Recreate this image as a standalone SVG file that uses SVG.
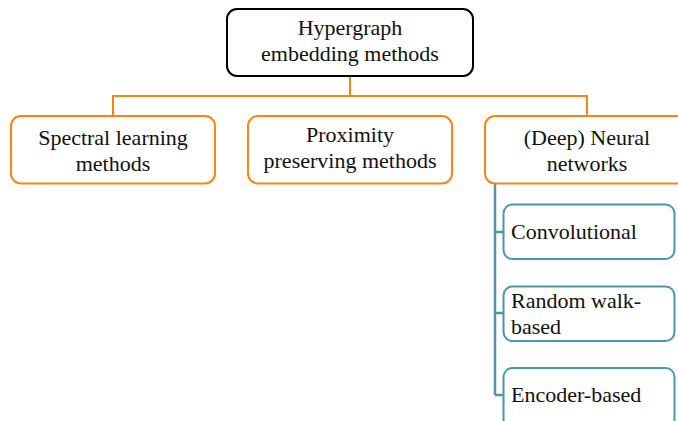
<svg xmlns="http://www.w3.org/2000/svg" width="678" height="421" viewBox="0 0 678 421">
<style>
text{font-family:"Liberation Serif","Times New Roman",serif;font-size:22px;fill:#111}
.c{text-anchor:middle}
.top{fill:#fff;stroke:#000;stroke-width:2}
.or{fill:#fff;stroke:#FF8410;stroke-width:2}
.tl{fill:#fff;stroke:#4A98A8;stroke-width:2}
.lo{fill:none;stroke:#FF8410;stroke-width:2}
.lt{fill:none;stroke:#4A98A8;stroke-width:2.5}
</style>
<rect width="678" height="421" fill="#fff"/>
<g id="connectors">
<path class="lo" d="M350,76V96M113,116V96H587V116"/>
<path class="lt" d="M495,184V395M495,232H503M495,313H503M495,395H503"/>
</g>
<g id="root">
<rect class="top" x="227" y="9" width="246" height="67" rx="10"/>
<text class="c" x="350" y="34.5">Hypergraph</text>
<text class="c" x="350" y="61">embedding methods</text>
</g>
<g id="spectral">
<rect class="or" x="11" y="116" width="204" height="67.5" rx="10"/>
<text class="c" x="113" y="144.5">Spectral learning</text>
<text class="c" x="113" y="171">methods</text>
</g>
<g id="proximity">
<rect class="or" x="248" y="116" width="204" height="67.5" rx="10"/>
<text class="c" x="350" y="141.5">Proximity</text>
<text class="c" x="350" y="168">preserving methods</text>
</g>
<g id="neural">
<rect class="or" x="485" y="116" width="210" height="67.5" rx="10"/>
<text class="c" x="587" y="144.5">(Deep) Neural</text>
<text class="c" x="587" y="171">networks</text>
</g>
<g id="convolutional">
<rect class="tl" x="503.5" y="204.5" width="171" height="54.5" rx="9"/>
<text x="511" y="239">Convolutional</text>
</g>
<g id="randomwalk">
<rect class="tl" x="503.5" y="286.5" width="171" height="54.5" rx="9"/>
<text x="511" y="308">Random walk-</text>
<text x="511" y="333.5">based</text>
</g>
<g id="encoder">
<rect class="tl" x="503.5" y="368" width="171" height="60" rx="9"/>
<text x="511" y="402">Encoder-based</text>
</g>
</svg>
